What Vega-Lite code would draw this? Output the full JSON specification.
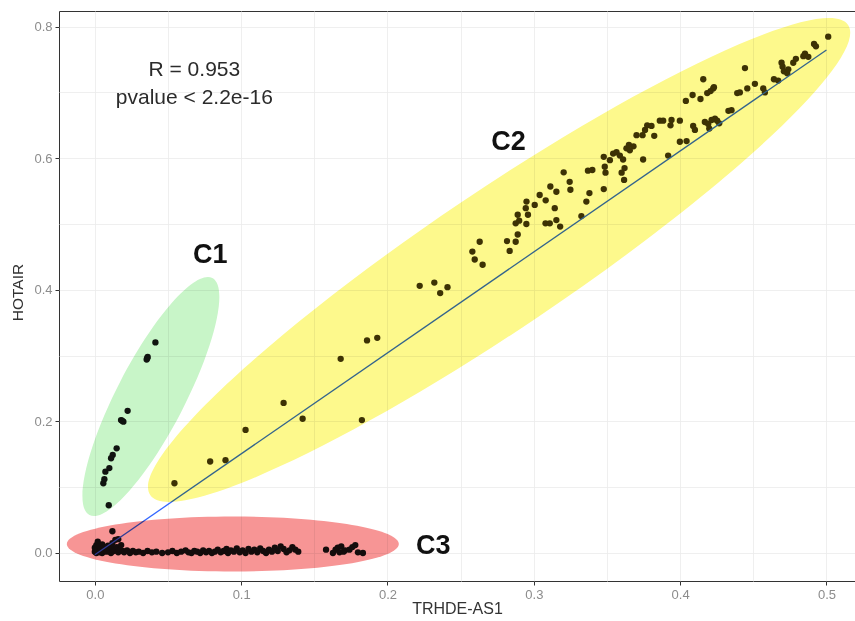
{
  "$schema": "https://vega.github.io/schema/vega-lite/v6.json",
  "width": 796,
  "height": 570,
  "autosize": {"type": "none"},
  "padding": {"left": 59, "top": 11, "right": 0, "bottom": 40},
  "background": "white",
  "config": {
    "view": {"stroke": "#333333", "strokeWidth": 1},
    "font": "Liberation Sans"
  },
  "datasets": {
    "pts": [
      {"x": 0.0414, "y": 0.320, "g": "C1"}, {"x": 0.0361, "y": 0.298, "g": "C1"}, {"x": 0.0354, "y": 0.294, "g": "C1"},
      {"x": 0.0358, "y": 0.296, "g": "C1"}, {"x": 0.0224, "y": 0.216, "g": "C1"}, {"x": 0.0179, "y": 0.202, "g": "C1"},
      {"x": 0.0195, "y": 0.1996, "g": "C1"}, {"x": 0.0186, "y": 0.201, "g": "C1"}, {"x": 0.0149, "y": 0.159, "g": "C1"},
      {"x": 0.0122, "y": 0.149, "g": "C1"}, {"x": 0.0111, "y": 0.144, "g": "C1"}, {"x": 0.0099, "y": 0.129, "g": "C1"},
      {"x": 0.0072, "y": 0.1236, "g": "C1"}, {"x": 0.0065, "y": 0.112, "g": "C1"}, {"x": 0.0058, "y": 0.106, "g": "C1"},
      {"x": 0.0095, "y": 0.0725, "g": "C1"},
      {"x": 0.0544, "y": 0.106, "g": "C2"}, {"x": 0.0788, "y": 0.139, "g": "C2"}, {"x": 0.0893, "y": 0.141, "g": "C2"},
      {"x": 0.103, "y": 0.187, "g": "C2"}, {"x": 0.129, "y": 0.228, "g": "C2"}, {"x": 0.142, "y": 0.204, "g": "C2"},
      {"x": 0.168, "y": 0.295, "g": "C2"}, {"x": 0.1825, "y": 0.202, "g": "C2"}, {"x": 0.186, "y": 0.323, "g": "C2"},
      {"x": 0.193, "y": 0.327, "g": "C2"}, {"x": 0.222, "y": 0.406, "g": "C2"}, {"x": 0.232, "y": 0.411, "g": "C2"},
      {"x": 0.236, "y": 0.395, "g": "C2"}, {"x": 0.241, "y": 0.404, "g": "C2"},
      {"x": 0.258, "y": 0.458, "g": "C2"}, {"x": 0.2596, "y": 0.446, "g": "C2"}, {"x": 0.263, "y": 0.473, "g": "C2"},
      {"x": 0.265, "y": 0.438, "g": "C2"}, {"x": 0.2817, "y": 0.474, "g": "C2"}, {"x": 0.2835, "y": 0.459, "g": "C2"},
      {"x": 0.2876, "y": 0.473, "g": "C2"}, {"x": 0.289, "y": 0.484, "g": "C2"}, {"x": 0.2876, "y": 0.501, "g": "C2"},
      {"x": 0.289, "y": 0.514, "g": "C2"}, {"x": 0.290, "y": 0.505, "g": "C2"}, {"x": 0.2949, "y": 0.500, "g": "C2"},
      {"x": 0.296, "y": 0.514, "g": "C2"}, {"x": 0.2945, "y": 0.524, "g": "C2"}, {"x": 0.295, "y": 0.534, "g": "C2"},
      {"x": 0.3006, "y": 0.529, "g": "C2"}, {"x": 0.304, "y": 0.544, "g": "C2"}, {"x": 0.3081, "y": 0.536, "g": "C2"},
      {"x": 0.308, "y": 0.501, "g": "C2"}, {"x": 0.3113, "y": 0.557, "g": "C2"}, {"x": 0.3143, "y": 0.524, "g": "C2"},
      {"x": 0.3154, "y": 0.549, "g": "C2"}, {"x": 0.3154, "y": 0.506, "g": "C2"}, {"x": 0.3109, "y": 0.501, "g": "C2"},
      {"x": 0.318, "y": 0.496, "g": "C2"}, {"x": 0.3204, "y": 0.5785, "g": "C2"}, {"x": 0.3245, "y": 0.564, "g": "C2"},
      {"x": 0.325, "y": 0.552, "g": "C2"}, {"x": 0.3325, "y": 0.512, "g": "C2"}, {"x": 0.3359, "y": 0.534, "g": "C2"},
      {"x": 0.338, "y": 0.547, "g": "C2"}, {"x": 0.337, "y": 0.581, "g": "C2"}, {"x": 0.340, "y": 0.582, "g": "C2"},
      {"x": 0.3478, "y": 0.602, "g": "C2"}, {"x": 0.3478, "y": 0.553, "g": "C2"}, {"x": 0.3485, "y": 0.587, "g": "C2"},
      {"x": 0.349, "y": 0.578, "g": "C2"}, {"x": 0.352, "y": 0.597, "g": "C2"}, {"x": 0.3542, "y": 0.607, "g": "C2"},
      {"x": 0.3565, "y": 0.609, "g": "C2"}, {"x": 0.3588, "y": 0.604, "g": "C2"}, {"x": 0.361, "y": 0.598, "g": "C2"},
      {"x": 0.360, "y": 0.578, "g": "C2"}, {"x": 0.362, "y": 0.585, "g": "C2"}, {"x": 0.3617, "y": 0.567, "g": "C2"},
      {"x": 0.3633, "y": 0.615, "g": "C2"}, {"x": 0.365, "y": 0.620, "g": "C2"}, {"x": 0.3681, "y": 0.618, "g": "C2"},
      {"x": 0.3656, "y": 0.612, "g": "C2"}, {"x": 0.3702, "y": 0.635, "g": "C2"}, {"x": 0.3747, "y": 0.598, "g": "C2"},
      {"x": 0.3743, "y": 0.635, "g": "C2"}, {"x": 0.376, "y": 0.643, "g": "C2"}, {"x": 0.3775, "y": 0.650, "g": "C2"},
      {"x": 0.3804, "y": 0.649, "g": "C2"}, {"x": 0.3823, "y": 0.634, "g": "C2"}, {"x": 0.3861, "y": 0.657, "g": "C2"},
      {"x": 0.3884, "y": 0.657, "g": "C2"}, {"x": 0.3918, "y": 0.604, "g": "C2"}, {"x": 0.3934, "y": 0.650, "g": "C2"},
      {"x": 0.3941, "y": 0.658, "g": "C2"}, {"x": 0.3998, "y": 0.657, "g": "C2"}, {"x": 0.3998, "y": 0.625, "g": "C2"},
      {"x": 0.4044, "y": 0.626, "g": "C2"}, {"x": 0.4039, "y": 0.687, "g": "C2"}, {"x": 0.4085, "y": 0.696, "g": "C2"},
      {"x": 0.4089, "y": 0.649, "g": "C2"}, {"x": 0.4101, "y": 0.643, "g": "C2"}, {"x": 0.4139, "y": 0.690, "g": "C2"},
      {"x": 0.4158, "y": 0.720, "g": "C2"}, {"x": 0.4169, "y": 0.655, "g": "C2"}, {"x": 0.4185, "y": 0.699, "g": "C2"},
      {"x": 0.4199, "y": 0.645, "g": "C2"}, {"x": 0.4208, "y": 0.702, "g": "C2"}, {"x": 0.4215, "y": 0.658, "g": "C2"},
      {"x": 0.4226, "y": 0.706, "g": "C2"}, {"x": 0.4231, "y": 0.708, "g": "C2"}, {"x": 0.4238, "y": 0.660, "g": "C2"},
      {"x": 0.4253, "y": 0.657, "g": "C2"}, {"x": 0.4267, "y": 0.653, "g": "C2"}, {"x": 0.4192, "y": 0.652, "g": "C2"},
      {"x": 0.4330, "y": 0.672, "g": "C2"}, {"x": 0.4351, "y": 0.673, "g": "C2"}, {"x": 0.4390, "y": 0.699, "g": "C2"},
      {"x": 0.4408, "y": 0.700, "g": "C2"}, {"x": 0.4443, "y": 0.737, "g": "C2"}, {"x": 0.4459, "y": 0.706, "g": "C2"},
      {"x": 0.4511, "y": 0.713, "g": "C2"}, {"x": 0.4568, "y": 0.706, "g": "C2"}, {"x": 0.4579, "y": 0.700, "g": "C2"},
      {"x": 0.4641, "y": 0.720, "g": "C2"}, {"x": 0.4670, "y": 0.718, "g": "C2"}, {"x": 0.4693, "y": 0.745, "g": "C2"},
      {"x": 0.470, "y": 0.739, "g": "C2"}, {"x": 0.4709, "y": 0.732, "g": "C2"}, {"x": 0.4732, "y": 0.729, "g": "C2"},
      {"x": 0.4739, "y": 0.735, "g": "C2"}, {"x": 0.4773, "y": 0.745, "g": "C2"}, {"x": 0.4791, "y": 0.751, "g": "C2"},
      {"x": 0.4842, "y": 0.755, "g": "C2"}, {"x": 0.4853, "y": 0.759, "g": "C2"}, {"x": 0.4876, "y": 0.754, "g": "C2"},
      {"x": 0.4915, "y": 0.7736, "g": "C2"}, {"x": 0.4928, "y": 0.770, "g": "C2"}, {"x": 0.5012, "y": 0.7847, "g": "C2"},
      {"x": 0.000, "y": 0.002, "g": "C3"}, {"x": 0.000, "y": 0.008, "g": "C3"}, {"x": 0.001, "y": 0.012, "g": "C3"},
      {"x": 0.001, "y": 0.000, "g": "C3"}, {"x": 0.002, "y": 0.017, "g": "C3"}, {"x": 0.002, "y": 0.005, "g": "C3"},
      {"x": 0.003, "y": 0.010, "g": "C3"}, {"x": 0.003, "y": 0.001, "g": "C3"}, {"x": 0.004, "y": 0.006, "g": "C3"},
      {"x": 0.005, "y": 0.013, "g": "C3"}, {"x": 0.005, "y": 0.000, "g": "C3"}, {"x": 0.006, "y": 0.004, "g": "C3"},
      {"x": 0.007, "y": 0.009, "g": "C3"}, {"x": 0.008, "y": 0.002, "g": "C3"}, {"x": 0.009, "y": 0.011, "g": "C3"},
      {"x": 0.010, "y": 0.005, "g": "C3"}, {"x": 0.011, "y": 0.000, "g": "C3"}, {"x": 0.012, "y": 0.015, "g": "C3"},
      {"x": 0.012, "y": 0.007, "g": "C3"}, {"x": 0.013, "y": 0.003, "g": "C3"}, {"x": 0.014, "y": 0.020, "g": "C3"},
      {"x": 0.015, "y": 0.009, "g": "C3"}, {"x": 0.016, "y": 0.001, "g": "C3"}, {"x": 0.017, "y": 0.004, "g": "C3"},
      {"x": 0.018, "y": 0.012, "g": "C3"}, {"x": 0.019, "y": 0.003, "g": "C3"}, {"x": 0.020, "y": 0.001, "g": "C3"},
      {"x": 0.012, "y": 0.033, "g": "C3"}, {"x": 0.016, "y": 0.021, "g": "C3"},
      {"x": 0.022, "y": 0.004, "g": "C3"}, {"x": 0.024, "y": 0.000, "g": "C3"}, {"x": 0.026, "y": 0.003, "g": "C3"},
      {"x": 0.028, "y": 0.001, "g": "C3"}, {"x": 0.030, "y": 0.002, "g": "C3"}, {"x": 0.033, "y": 0.000, "g": "C3"},
      {"x": 0.036, "y": 0.003, "g": "C3"}, {"x": 0.039, "y": 0.001, "g": "C3"}, {"x": 0.042, "y": 0.002, "g": "C3"},
      {"x": 0.046, "y": 0.000, "g": "C3"}, {"x": 0.050, "y": 0.001, "g": "C3"}, {"x": 0.053, "y": 0.003, "g": "C3"},
      {"x": 0.056, "y": 0.000, "g": "C3"}, {"x": 0.059, "y": 0.002, "g": "C3"}, {"x": 0.062, "y": 0.004, "g": "C3"},
      {"x": 0.064, "y": 0.001, "g": "C3"}, {"x": 0.066, "y": 0.000, "g": "C3"}, {"x": 0.068, "y": 0.003, "g": "C3"},
      {"x": 0.070, "y": 0.002, "g": "C3"}, {"x": 0.072, "y": 0.000, "g": "C3"}, {"x": 0.074, "y": 0.004, "g": "C3"},
      {"x": 0.076, "y": 0.001, "g": "C3"}, {"x": 0.078, "y": 0.003, "g": "C3"}, {"x": 0.080, "y": 0.000, "g": "C3"},
      {"x": 0.082, "y": 0.002, "g": "C3"}, {"x": 0.084, "y": 0.005, "g": "C3"}, {"x": 0.086, "y": 0.001, "g": "C3"},
      {"x": 0.088, "y": 0.003, "g": "C3"}, {"x": 0.090, "y": 0.006, "g": "C3"}, {"x": 0.091, "y": 0.000, "g": "C3"},
      {"x": 0.093, "y": 0.004, "g": "C3"}, {"x": 0.095, "y": 0.002, "g": "C3"}, {"x": 0.097, "y": 0.007, "g": "C3"},
      {"x": 0.099, "y": 0.001, "g": "C3"}, {"x": 0.101, "y": 0.004, "g": "C3"}, {"x": 0.103, "y": 0.000, "g": "C3"},
      {"x": 0.105, "y": 0.006, "g": "C3"}, {"x": 0.107, "y": 0.002, "g": "C3"}, {"x": 0.109, "y": 0.005, "g": "C3"},
      {"x": 0.111, "y": 0.001, "g": "C3"}, {"x": 0.113, "y": 0.007, "g": "C3"}, {"x": 0.115, "y": 0.003, "g": "C3"},
      {"x": 0.117, "y": 0.000, "g": "C3"}, {"x": 0.119, "y": 0.005, "g": "C3"}, {"x": 0.121, "y": 0.002, "g": "C3"},
      {"x": 0.123, "y": 0.008, "g": "C3"}, {"x": 0.125, "y": 0.003, "g": "C3"}, {"x": 0.127, "y": 0.010, "g": "C3"},
      {"x": 0.129, "y": 0.006, "g": "C3"}, {"x": 0.131, "y": 0.001, "g": "C3"}, {"x": 0.133, "y": 0.004, "g": "C3"},
      {"x": 0.135, "y": 0.009, "g": "C3"}, {"x": 0.137, "y": 0.005, "g": "C3"}, {"x": 0.139, "y": 0.002, "g": "C3"},
      {"x": 0.158, "y": 0.005, "g": "C3"}, {"x": 0.1627, "y": 0.000, "g": "C3"}, {"x": 0.1645, "y": 0.005, "g": "C3"},
      {"x": 0.166, "y": 0.008, "g": "C3"}, {"x": 0.1684, "y": 0.010, "g": "C3"}, {"x": 0.1672, "y": 0.001, "g": "C3"},
      {"x": 0.171, "y": 0.004, "g": "C3"}, {"x": 0.174, "y": 0.005, "g": "C3"}, {"x": 0.178, "y": 0.012, "g": "C3"},
      {"x": 0.1798, "y": 0.001, "g": "C3"}, {"x": 0.1832, "y": 0.000, "g": "C3"}, {"x": 0.176, "y": 0.009, "g": "C3"},
      {"x": 0.170, "y": 0.002, "g": "C3"}
    ],
    "fit": [{"x": 0.0, "y": -0.0028}, {"x": 0.5, "y": 0.7644}],
    "labels": [
      {"x": 0.0789, "y": 0.4529, "t": "C1"},
      {"x": 0.2827, "y": 0.6239, "t": "C2"},
      {"x": 0.2312, "y": 0.0106, "t": "C3"}
    ],
    "stats": [
      {"x": 0.068, "y": 0.734, "t": "R = 0.953"},
      {"x": 0.068, "y": 0.6915, "t": "pvalue < 2.2e-16"}
    ]
  },
  "encoding": {
    "x": {
      "field": "x", "type": "quantitative",
      "scale": {"domain": [-0.0245, 0.5195], "nice": false, "zero": false},
      "axis": {
        "title": "TRHDE-AS1",
        "values": [0, 0.05, 0.1, 0.15, 0.2, 0.25, 0.3, 0.35, 0.4, 0.45, 0.5],
        "labelExpr": "abs(datum.value*10 - round(datum.value*10)) < 0.001 ? format(datum.value, '.1f') : ''",
        "domain": false,
        "grid": true, "gridColor": "#ebebeb", "gridWidth": 0.8,
        "tickColor": "#333333", "tickSize": 4,
        "tickOpacity": {"condition": {"test": "abs(datum.value*10 - round(datum.value*10)) > 0.001", "value": 0}, "value": 1},
        "labelColor": "#8c8c8c", "labelFontSize": 13, "labelPadding": 3, "labelFont": "Liberation Sans",
        "titleColor": "#333333", "titleFontSize": 16, "titleFontWeight": "normal", "titleFont": "Liberation Sans",
        "titleY": 27, "titleBaseline": "middle"
      }
    },
    "y": {
      "field": "y", "type": "quantitative",
      "scale": {"domain": [-0.0426, 0.8237], "nice": false, "zero": false},
      "axis": {
        "title": "HOTAIR",
        "values": [0, 0.1, 0.2, 0.3, 0.4, 0.5, 0.6, 0.7, 0.8],
        "labelExpr": "round(datum.value*10) % 2 == 0 ? format(datum.value, '.1f') : ''",
        "domain": false,
        "grid": true, "gridColor": "#ebebeb", "gridWidth": 0.8,
        "tickColor": "#333333", "tickSize": 4,
        "tickOpacity": {"condition": {"test": "round(datum.value*10) % 2 == 1", "value": 0}, "value": 1},
        "labelColor": "#8c8c8c", "labelFontSize": 13, "labelPadding": 3, "labelFont": "Liberation Sans",
        "titleColor": "#333333", "titleFontSize": 15.5, "titleFontWeight": "normal", "titleFont": "Liberation Sans",
        "titleX": -42, "titleY": 281, "titleAngle": -90, "titleAlign": "center", "titleBaseline": "middle"
      }
    }
  },
  "layer": [
    {
      "data": {"name": "pts"},
      "mark": {"type": "point", "filled": true, "size": 40, "opacity": 1},
      "encoding": {
        "color": {"field": "g", "type": "nominal", "scale": {"domain": ["C1", "C2", "C3"], "range": ["#141414", "#3d3306", "#141414"]}, "legend": null}
      }
    },
    {
      "data": {"name": "fit"},
      "mark": {"type": "line", "color": "#3366FF", "strokeWidth": 1.3}
    },
    {
      "data": {"values": [{"x": 0.0383, "y": 0.2378}]},
      "mark": {"type": "point", "filled": true, "opacity": 1, "color": "#c8f5c8", "blend": "multiply",
        "shape": "M1,0C1,0.1407,0.5523,0.2547,0,0.2547C-0.5523,0.2547,-1,0.1407,-1,0C-1,-0.1407,-0.5523,-0.2547,0,-0.2547C0.5523,-0.2547,1,-0.1407,1,0Z",
        "size": 71289, "angle": 297.4}
    },
    {
      "data": {"values": [{"x": 0.2763, "y": 0.4453}]},
      "mark": {"type": "point", "filled": true, "opacity": 1, "color": "#fdf98c", "blend": "multiply",
        "shape": "M1,0C1,0.0906,0.5523,0.164,0,0.164C-0.5523,0.164,-1,0.0906,-1,0C-1,-0.0906,-0.5523,-0.164,0,-0.164C0.5523,-0.164,1,-0.0906,1,0Z",
        "size": 707954, "angle": 326.04}
    },
    {
      "data": {"values": [{"x": 0.0943, "y": 0.0137}]},
      "mark": {"type": "point", "filled": true, "opacity": 1, "color": "#f79595", "blend": "multiply",
        "shape": "M1,0C1,0.0915,0.5523,0.1657,0,0.1657C-0.5523,0.1657,-1,0.0915,-1,0C-1,-0.0915,-0.5523,-0.1657,0,-0.1657C0.5523,-0.1657,1,-0.0915,1,0Z",
        "size": 110224, "angle": 0}
    },
    {
      "data": {"name": "labels"},
      "mark": {"type": "text", "font": "Liberation Sans", "fontSize": 27, "fontWeight": "bold", "color": "#111111", "align": "center", "baseline": "middle"},
      "encoding": {"text": {"field": "t"}}
    },
    {
      "data": {"name": "stats"},
      "mark": {"type": "text", "font": "Liberation Sans", "fontSize": 21, "color": "#2b2b2b", "align": "center", "baseline": "middle"},
      "encoding": {"text": {"field": "t"}}
    }
  ]
}
